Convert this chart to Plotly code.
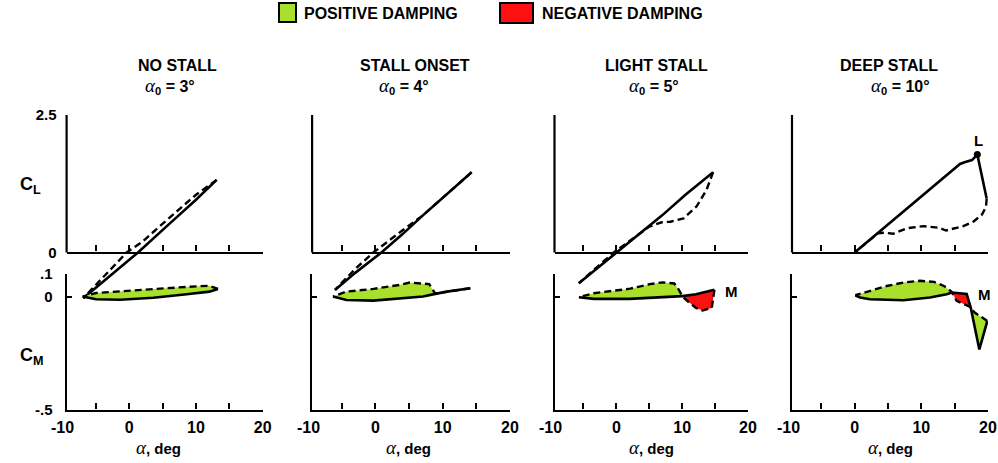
import plotly.graph_objects as go

W, H = 998, 463

# ---------------------------------------------------------------- data
ALPHA_TICKS = [0, 10, 20]
ALPHA_TICK_LABELS = ["0", "10", "20"]
ALPHA_MINOR_TICKS = [-5, 5, 15]
ALPHA_FIRST_LABEL = -10
CL_TICKS = [0, 2.5]
CL_TICK_LABELS = ["0", "2.5"]
CM_TICKS = [-0.5, 0, 0.1]
CM_TICK_LABELS = ["-.5", "0", ".1"]

TITLES = ["NO STALL", "STALL ONSET", "LIGHT STALL", "DEEP STALL"]
MEAN_ALPHA = [3, 4, 5, 10]
LEGEND_LABELS = ["POSITIVE DAMPING", "NEGATIVE DAMPING"]

# No stall, alpha0 = 3 deg
NS_CL_UP_ALPHA = [-6.9, -3.0, 1.3, 6.0, 10.0, 13.1]
NS_CL_UP = [-0.83, -0.43, 0.0, 0.52, 0.96, 1.32]
NS_CL_DN_ALPHA = [13.1, 10.0, 6.0, 2.0, -0.4, -3.5, -6.9]
NS_CL_DN = [1.32, 1.05, 0.63, 0.20, 0.0, -0.40, -0.83]
NS_CM_UP_ALPHA = [-7.0, -5.0, -1.4, 3.6, 8.6, 12.0, 13.3]
NS_CM_UP = [0.0, -0.012, -0.014, -0.005, 0.010, 0.022, 0.034]
NS_CM_DN_ALPHA = [13.3, 12.0, 8.6, 3.6, -1.4, -5.0, -7.0]
NS_CM_DN = [0.034, 0.048, 0.043, 0.034, 0.025, 0.016, 0.0]
NS_LOBES = [("pos", 0, 6, 0, 6)]

# Stall onset, alpha0 = 4 deg
SO_CL_UP_ALPHA = [-6.0, -3.0, 0.9, 4.0, 7.1, 10.5, 14.3]
SO_CL_UP = [-0.68, -0.37, 0.0, 0.33, 0.68, 1.05, 1.46]
SO_CL_DN_ALPHA = [14.3, 10.5, 7.1, 4.0, 1.5, -0.3, -3.0, -6.0]
SO_CL_DN = [1.46, 1.05, 0.68, 0.40, 0.17, 0.0, -0.30, -0.68]
SO_CM_UP_ALPHA = [-6.3, -4.3, -0.3, 3.7, 7.1, 8.9, 10.6, 14.1]
SO_CM_UP = [0.0, -0.015, -0.018, -0.010, 0.0, 0.012, 0.022, 0.037]
SO_CM_DN_ALPHA = [14.1, 10.6, 8.9, 8.0, 7.1, 5.1, 3.7, -0.3, -4.3, -6.3]
SO_CM_DN = [0.037, 0.022, 0.013, 0.055, 0.058, 0.062, 0.052, 0.034, 0.022, 0.0]
SO_LOBES = [("pos", 0, 5, 2, 9)]

# Light stall, alpha0 = 5 deg
LS_CL_UP_ALPHA = [-5.7, -2.0, 0.0, 3.5, 7.0, 10.5, 14.7]
LS_CL_UP = [-0.56, -0.20, 0.0, 0.34, 0.68, 1.05, 1.46]
LS_CL_DN_ALPHA = [14.7, 13.7, 12.2, 10.2, 8.2, 6.9, 5.0, 2.0, -0.4, -3.0, -5.7]
LS_CL_DN = [1.46, 1.14, 0.84, 0.62, 0.56, 0.55, 0.47, 0.21, 0.0, -0.27, -0.56]
LS_CM_UP_ALPHA = [-5.7, -3.4, 2.0, 7.0, 10.0, 12.1, 14.9]
LS_CM_UP = [-0.003, -0.010, -0.010, -0.004, 0.002, 0.010, 0.030]
LS_CM_DN_ALPHA = [14.9, 14.5, 13.1, 12.1, 10.6, 10.0, 9.5, 8.8, 7.0, 5.1, 2.1, -0.6, -3.4, -5.7]
LS_CM_DN = [0.030, -0.050, -0.062, -0.050, -0.015, 0.002, 0.030, 0.058, 0.063,
            0.055, 0.035, 0.026, 0.015, -0.003]
LS_LOBES = [("pos", 0, 4, 5, 13), ("neg", 4, 6, 0, 5)]

# Deep stall, alpha0 = 10 deg
DS_CL_UP_ALPHA = [0.0, 4.0, 8.0, 12.0, 15.8, 16.6, 17.6, 18.4, 19.8]
DS_CL_UP = [0.0, 0.41, 0.82, 1.22, 1.61, 1.645, 1.68, 1.78, 0.98]
DS_CL_DN_ALPHA = [19.8, 19.7, 19.1, 17.8, 16.3, 14.8, 13.7, 12.6, 10.3, 7.8, 5.8, 4.5, 3.5, 2.0, 0.0]
DS_CL_DN = [0.98, 0.83, 0.69, 0.56, 0.48, 0.43, 0.40, 0.45, 0.48, 0.44, 0.34, 0.36, 0.35, 0.20, 0.0]
DS_CM_UP_ALPHA = [0.1, 0.8, 2.3, 7.3, 11.3, 13.8, 14.6, 16.8, 17.4, 18.7, 19.9]
DS_CM_UP = [0.006, -0.004, -0.012, -0.016, -0.004, 0.010, 0.018, 0.012, -0.047, -0.234, -0.108]
DS_CM_DN_ALPHA = [19.9, 18.0, 17.4, 15.3, 14.6, 14.4, 13.4, 11.9, 9.8, 7.3, 4.8, 2.3, 0.1]
DS_CM_DN = [-0.108, -0.071, -0.047, -0.019, 0.018, 0.025, 0.047, 0.065, 0.070, 0.062,
            0.047, 0.025, 0.006]
DS_LOBES = [("pos", 0, 6, 4, 12), ("neg", 6, 8, 2, 4), ("pos", 8, 10, 0, 2)]

PANELS = [
    (NS_CL_UP_ALPHA, NS_CL_UP, NS_CL_DN_ALPHA, NS_CL_DN,
     NS_CM_UP_ALPHA, NS_CM_UP, NS_CM_DN_ALPHA, NS_CM_DN, NS_LOBES),
    (SO_CL_UP_ALPHA, SO_CL_UP, SO_CL_DN_ALPHA, SO_CL_DN,
     SO_CM_UP_ALPHA, SO_CM_UP, SO_CM_DN_ALPHA, SO_CM_DN, SO_LOBES),
    (LS_CL_UP_ALPHA, LS_CL_UP, LS_CL_DN_ALPHA, LS_CL_DN,
     LS_CM_UP_ALPHA, LS_CM_UP, LS_CM_DN_ALPHA, LS_CM_DN, LS_LOBES),
    (DS_CL_UP_ALPHA, DS_CL_UP, DS_CL_DN_ALPHA, DS_CL_DN,
     DS_CM_UP_ALPHA, DS_CM_UP, DS_CM_DN_ALPHA, DS_CM_DN, DS_LOBES),
]

# ---------------------------------------------------------------- style / layout
GREEN = "#a8e02c"
RED = "#ff1010"
LOBE_COLORS = {"pos": GREEN, "neg": RED}
FONT = "Liberation Sans, Arial, sans-serif"
SERIF = "Liberation Serif"

PANEL_PX = [(66.6, 262.7), (312.1, 510.0), (554.5, 748.0), (792.0, 988.0)]
ALPHA_MIN, ALPHA_MAX = -9.4, 20
CL_TOP_PX, CL_ZERO_PX, CL_BOT_PX = 115.0, 252.5, 307.5
CM_TOP_PX, CM_BOT_PX = 274.0, 409.5
TITLE1_X = [177, 415, 656, 889]
TITLE2_X = [170, 404, 654, 900]
XLABEL_X = [158, 408, 651, 890]

cl_scale = (CL_ZERO_PX - CL_TOP_PX) / CL_TICKS[-1]
CL_RANGE = [-(CL_BOT_PX - CL_ZERO_PX) / cl_scale, CL_TICKS[-1]]
CM_RANGE = [CM_TICKS[0], CM_TICKS[-1]]


def px(x):
    return x / W


def py(y):
    return 1 - y / H


def label(text, x, y, size=16, **kw):
    return dict(text=text, xref="paper", yref="paper", x=px(x), y=py(y),
                xanchor=kw.pop("xanchor", "center"), yanchor="middle",
                showarrow=False, font=dict(family=FONT, size=size, color="black",
                                           weight="bold"), **kw)


ALPHA_HTML = (f'<span style="font-family:{SERIF};font-style:italic;font-weight:normal;'
              f'font-size:19px">α</span>')

fig = go.Figure()
layout = dict(
    template="none",
    width=W, height=H, margin=dict(l=0, r=0, t=0, b=0, pad=0), autosize=False,
    paper_bgcolor="white", plot_bgcolor="rgba(0,0,0,0)",
    showlegend=False, font=dict(family=FONT, color="black"),
)
shapes, annotations = [], []

axis_common = dict(showgrid=False, zeroline=False, ticks="inside", tickwidth=2,
                   tickcolor="black", linecolor="black", linewidth=2.2, fixedrange=True,
                   automargin=False,
                   tickfont=dict(family=FONT, size=16, color="black", weight="bold"))
alpha_minor = dict(tickmode="array", tickvals=ALPHA_MINOR_TICKS, ticks="inside",
                   ticklen=6, tickwidth=2, tickcolor="black", showgrid=False)
ytickfont = dict(family=FONT, size=15, color="black", weight="bold")

for k, (cla, clu, cda, cld, mua, mu, mda, md, lobes) in enumerate(PANELS):
    ia, ib = 2 * k + 1, 2 * k + 2
    xa, ya = ("x", "y") if ia == 1 else (f"x{ia}", f"y{ia}")
    xb, yb = f"x{ib}", f"y{ib}"
    left, right = PANEL_PX[k]
    dom_x = [px(left), px(right)]
    first = k == 0

    # lift axes: baseline at CL = 0, vertical stub from 0 to 2.5
    layout["xaxis" if ia == 1 else f"xaxis{ia}"] = dict(
        axis_common, domain=dom_x, range=[ALPHA_MIN, ALPHA_MAX], anchor="free",
        position=py(CL_ZERO_PX), showline=True, tickvals=ALPHA_TICKS, ticklen=6,
        minor=alpha_minor, showticklabels=False)
    layout["yaxis" if ia == 1 else f"yaxis{ia}"] = dict(
        axis_common, domain=[py(CL_BOT_PX), py(CL_TOP_PX)], range=CL_RANGE,
        anchor=xa, showline=False, tickvals=CL_TICKS, ticktext=CL_TICK_LABELS,
        ticklen=5, showticklabels=first, tickfont=ytickfont, ticklabelstandoff=9)
    shapes.append(dict(type="line", xref=f"{xa} domain", yref=ya, x0=0, x1=0,
                       y0=CL_TICKS[0], y1=CL_TICKS[-1],
                       line=dict(color="black", width=2.2)))

    # moment axes
    layout[f"xaxis{ib}"] = dict(
        axis_common, domain=dom_x, range=[ALPHA_MIN, ALPHA_MAX], anchor=yb,
        showline=True, tickvals=ALPHA_TICKS, ticktext=ALPHA_TICK_LABELS, ticklen=6,
        minor=alpha_minor, ticklabelstandoff=2)
    layout[f"yaxis{ib}"] = dict(
        axis_common, domain=[py(CM_BOT_PX), py(CM_TOP_PX)], range=CM_RANGE,
        anchor=xb, showline=True, tickvals=CM_TICKS, ticktext=CM_TICK_LABELS,
        ticklen=5, showticklabels=first, tickfont=ytickfont, ticklabelstandoff=9)

    # damping lobes
    for kind, u0, u1, d0, d1 in lobes:
        fig.add_trace(go.Scatter(
            x=mua[u0:u1 + 1] + mda[d0:d1 + 1], y=mu[u0:u1 + 1] + md[d0:d1 + 1],
            xaxis=xb, yaxis=yb, mode="lines", fill="toself",
            fillcolor=LOBE_COLORS[kind], line=dict(width=0), hoverinfo="skip"))

    solid = dict(color="black", width=2.6)
    dashed = dict(color="black", width=2.4, dash="7px,4px")
    fig.add_trace(go.Scatter(x=cla, y=clu, xaxis=xa, yaxis=ya, mode="lines", line=solid))
    fig.add_trace(go.Scatter(x=cda, y=cld, xaxis=xa, yaxis=ya, mode="lines", line=dashed))
    fig.add_trace(go.Scatter(x=mua, y=mu, xaxis=xb, yaxis=yb, mode="lines", line=solid))
    fig.add_trace(go.Scatter(x=mda, y=md, xaxis=xb, yaxis=yb, mode="lines", line=dashed))

    # panel titles
    annotations.append(label(TITLES[k], TITLE1_X[k], 65))
    annotations.append(label(f"{ALPHA_HTML}<sub>0</sub> = {MEAN_ALPHA[k]}°", TITLE2_X[k], 86))

    # first alpha tick label sits left of the vertical axis
    scale = (right - left) / (ALPHA_MAX - ALPHA_MIN)
    annotations.append(label(f"{ALPHA_FIRST_LABEL}",
                             left + (ALPHA_FIRST_LABEL - ALPHA_MIN) * scale, 427))
    annotations.append(label(f"{ALPHA_HTML}, deg", XLABEL_X[k], 447, size=15))

# dot at the deep-stall lift peak
i_peak = DS_CL_UP.index(max(DS_CL_UP))
fig.add_trace(go.Scatter(x=[DS_CL_UP_ALPHA[i_peak]], y=[DS_CL_UP[i_peak]], xaxis="x7",
                         yaxis="y7", mode="markers",
                         marker=dict(color="black", size=7)))

# loop labels
annotations.append(label("M", 731, 291, size=15))
annotations.append(label("M", 984, 294, size=15))
annotations.append(label("L", 978, 140, size=15))

# axis names
annotations.append(label("C<sub>L</sub>", 30, 186, size=18))
annotations.append(label("C<sub>M</sub>", 32, 356, size=18))

# legend
for (x0, x1, y0, y1, tx), kind, text in zip(
        [(279, 296, 3, 22, 302), (500, 533, 3, 23, 540)], ["pos", "neg"], LEGEND_LABELS):
    shapes.append(dict(type="rect", xref="paper", yref="paper", x0=px(x0), x1=px(x1),
                       y0=py(y1), y1=py(y0), fillcolor=LOBE_COLORS[kind],
                       line=dict(color="black", width=2)))
    annotations.append(label(text, tx, 14, xanchor="left"))

layout["shapes"] = shapes
layout["annotations"] = annotations
fig.update_layout(**layout)
fig.write_html("out.html")
